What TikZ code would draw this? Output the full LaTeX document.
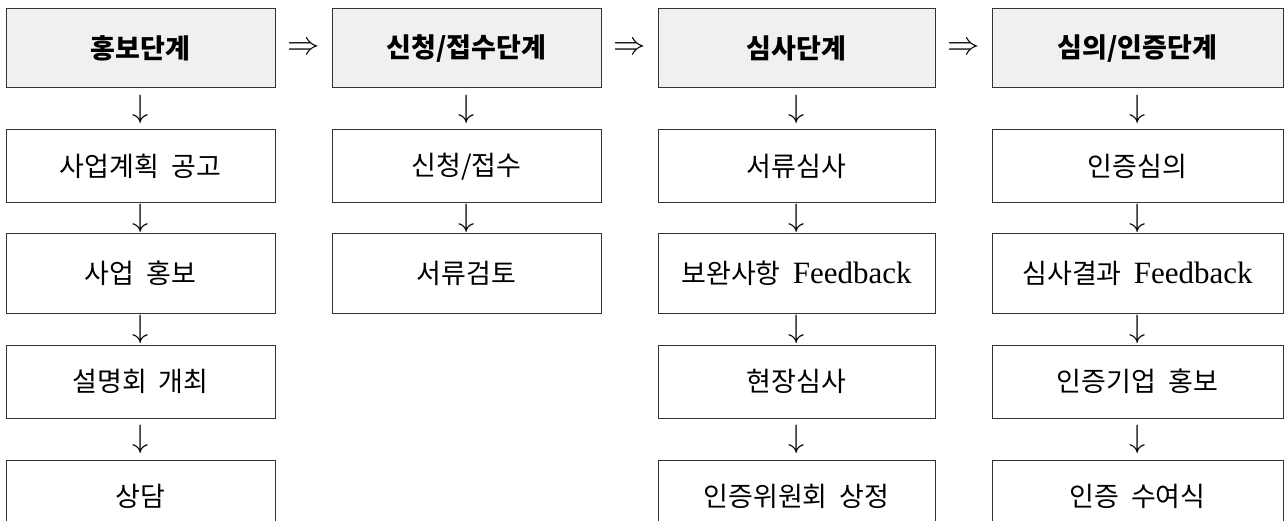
\documentclass[tikz,border=0pt]{standalone}
\usepackage{graphicx}
\usepackage{fontspec}
\setmainfont{Liberation Serif}
\newfontfamily\kr{Noto Sans CJK KR}
\newcommand{\fb}{{\fontsize{31}{32}\selectfont\rmfamily Feedback}}
\usetikzlibrary{calc}
\begin{document}
\begin{tikzpicture}[x=1pt,y=-1pt,
  box/.style={draw=black!80, line width=1pt, rectangle, inner sep=0pt,
    font=\fontsize{27}{30}\selectfont\kr},
  head/.style={box, fill=black!6, minimum height=79pt,
    font=\fontsize{27}{30}\selectfont\kr\bfseries},
  cell/.style={box, minimum height=73pt},
  tall/.style={box, minimum height=79pt},
  w1/.style={minimum width=269pt},
  w3/.style={minimum width=277pt},
  w4/.style={minimum width=291pt},
  dn/.style={inner sep=0pt, font=\fontsize{24}{28}\selectfont},
  rt/.style={inner sep=0pt, font=\fontsize{24}{28}\selectfont}]
\useasboundingbox (0,0) rectangle (1284,521);
\clip (0,0) rectangle (1284,521);
% headers
\node[head,w1] (h1) at (140.5,48.5) {홍보단계};
\node[head,w1] (h2) at (466.5,48.5) {신청/접수단계};
\node[head,w3] (h3) at (796.5,48.5) {심사단계};
\node[head,w4] (h4) at (1137.5,48.5) {심의/인증단계};
% column 1
\node[cell,w1] (a1) at (140.5,166.5) {사업계획\ \ 공고};
\node[tall,w1] (a2) at (140.5,273.5) {사업\ \ 홍보};
\node[cell,w1] (a3) at (140.5,381.5) {설명회\ \ 개최};
\node[cell,w1] (a4) at (140.5,496.5) {상담};
% column 2
\node[cell,w1] (b1) at (466.5,166.5) {신청/접수};
\node[tall,w1] (b2) at (466.5,273.5) {서류검토};
% column 3
\node[cell,w3] (c1) at (796.5,166.5) {서류심사};
\node[tall,w3] (c2) at (796.5,273.5) {보완사항\ \ \fb};
\node[cell,w3] (c3) at (796.5,381.5) {현장심사};
\node[cell,w3] (c4) at (796.5,496.5) {인증위원회\ \ 상정};
% column 4
\node[cell,w4] (d1) at (1137.5,166.5) {인증심의};
\node[tall,w4] (d2) at (1137.5,273.5) {심사결과\ \ \fb};
\node[cell,w4] (d3) at (1137.5,381.5) {인증기업\ \ 홍보};
\node[cell,w4] (d4) at (1137.5,496.5) {인증\ \ 수여식};
% horizontal arrows
\node[rt] (r1) at ($(h1.east)!0.5!(h2.west)$) {\scalebox{1.3}{$\Rightarrow$}};
\node[rt] (r2) at ($(h2.east)!0.5!(h3.west)$) {\scalebox{1.3}{$\Rightarrow$}};
\node[rt] (r3) at ($(h3.east)!0.5!(h4.west)$) {\scalebox{1.3}{$\Rightarrow$}};
% vertical arrows
\foreach \u/\v in {h1/a1,a1/a2,a2/a3,a3/a4,h2/b1,b1/b2,h3/c1,c1/c2,c2/c3,c3/c4,h4/d1,d1/d2,d2/d3,d3/d4}
  \node[dn] (v-\u) at ($(\u.south)!0.5!(\v.north)$) {\scalebox{1.3}{$\downarrow$}};
\end{tikzpicture}
\end{document}
